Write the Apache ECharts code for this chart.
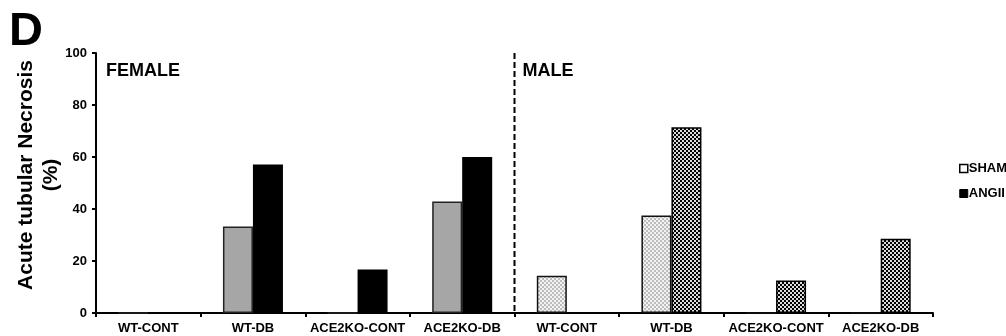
<!DOCTYPE html>
<html>
<head>
<meta charset="utf-8">
<script src="https://cdn.jsdelivr.net/npm/echarts@6/dist/echarts.min.js"></script>
<style>
  html, body { margin: 0; padding: 0; background: #fff; }
  #chart { width: 1006px; height: 336px; }
</style>
</head>
<body>
<div id="chart"></div>
<script>
// Groups along the x axis: four female groups followed by four male groups
const categories = ['WT-CONT', 'WT-DB', 'ACE2KO-CONT', 'ACE2KO-DB',
                    'WT-CONT', 'WT-DB', 'ACE2KO-CONT', 'ACE2KO-DB'];
const seriesNames = ['SHAM', 'ANGII'];
// Acute tubular necrosis (%) per group
const femaleSham  = [0, 33.3, 0, 42.9];
const femaleAngii = [0, 57.1, 16.7, 60.0];
const maleSham    = [14.3, 37.5, 0, 0];
const maleAngii   = [0, 71.4, 12.5, 28.6];
const yTicks = [0, 20, 40, 60, 80, 100];

const FONT = '"Liberation Sans", Arial, sans-serif';

// Fine checker fills used for the male bars
function checker(dark, light, cell) {
  const c = document.createElement('canvas');
  c.width = c.height = cell * 2;
  const g = c.getContext('2d');
  g.fillStyle = light; g.fillRect(0, 0, cell * 2, cell * 2);
  g.fillStyle = dark;
  g.fillRect(0, 0, cell, cell);
  g.fillRect(cell, cell, cell, cell);
  return c;
}
const lightChecker = { image: checker('#bdbdbd', '#f2f2f2', 2), repeat: 'repeat' };
const darkChecker  = { image: checker('#000000', '#dcdcdc', 2), repeat: 'repeat' };

function buildData(female, male, femaleStyle, maleStyle) {
  return female.map(v => ({ value: v, itemStyle: femaleStyle }))
    .concat(male.map(v => ({ value: v, itemStyle: maleStyle })));
}

const chart = echarts.init(document.getElementById('chart'), null, { renderer: 'canvas' });

const option = {
  animation: false,
  backgroundColor: '#fff',
  grid: { left: 96, right: 73, top: 53, bottom: 23, containLabel: false },
  legend: {
    orient: 'vertical',
    left: 954,
    top: 157,
    itemWidth: 8,
    itemHeight: 8,
    itemGap: 12,
    textStyle: { fontFamily: FONT, fontWeight: 'bold', fontSize: 13, color: '#000', padding: [0, 0, 0, -4] },
    data: [
      { name: 'SHAM', icon: 'rect', itemStyle: { color: '#fff', borderColor: '#000', borderWidth: 1.5 } },
      { name: 'ANGII', icon: 'rect', itemStyle: { color: '#000', borderColor: '#000', borderWidth: 1 } }
    ]
  },
  xAxis: {
    type: 'category',
    data: categories,
    boundaryGap: true,
    axisLine: { lineStyle: { color: '#000', width: 2 } },
    axisTick: { show: true, alignWithLabel: false, length: 4, lineStyle: { color: '#000', width: 2 } },
    axisLabel: { interval: 0, margin: 9, color: '#000', fontFamily: FONT, fontWeight: 'bold', fontSize: 13 },
    splitLine: { show: false }
  },
  yAxis: {
    type: 'value',
    min: yTicks[0],
    max: yTicks[yTicks.length - 1],
    interval: yTicks[1] - yTicks[0],
    axisLine: { show: true, lineStyle: { color: '#000', width: 2 } },
    axisTick: { show: true, length: 4, lineStyle: { color: '#000', width: 2 } },
    axisLabel: { margin: 9, color: '#000', fontFamily: FONT, fontWeight: 'bold', fontSize: 13 },
    splitLine: { show: false }
  },
  series: [
    {
      name: seriesNames[0],
      type: 'bar',
      barWidth: 30,
      barGap: '0%',
      data: buildData(femaleSham, maleSham,
        { color: '#a6a6a6', borderColor: '#222', borderWidth: 1.5 },
        { color: lightChecker, borderColor: '#111', borderWidth: 1.5 })
    },
    {
      name: seriesNames[1],
      type: 'bar',
      barWidth: 30,
      barGap: '0%',
      data: buildData(femaleAngii, maleAngii,
        { color: '#000', borderColor: '#000', borderWidth: 1.5 },
        { color: darkChecker, borderColor: '#000', borderWidth: 1.5 })
    }
  ]
};

chart.setOption(option);

// Divider between the female and male halves, plus panel text
const xa = chart.convertToPixel({ xAxisIndex: 0 }, 3);
const xb = chart.convertToPixel({ xAxisIndex: 0 }, 4);
const xDiv = (xa + xb) / 2;
const yTop = chart.convertToPixel({ yAxisIndex: 0 }, yTicks[yTicks.length - 1]);
const yBot = chart.convertToPixel({ yAxisIndex: 0 }, yTicks[0]);
const yMid = (yTop + yBot) / 2;

chart.setOption({
  graphic: [
    { type: 'line', shape: { x1: xDiv, y1: yTop, x2: xDiv, y2: yBot },
      style: { stroke: '#000', lineWidth: 2, lineDash: [6, 3] }, z: 10 },
    { type: 'text', left: 9, top: 9,
      style: { text: 'D', font: 'bold 47px ' + FONT, fill: '#000' } },
    { type: 'text', x: 106, y: 62,
      style: { text: 'FEMALE', font: 'bold 18px ' + FONT, fill: '#000' } },
    { type: 'text', x: xDiv + 8, y: 62,
      style: { text: 'MALE', font: 'bold 18px ' + FONT, fill: '#000' } },
    { type: 'text', x: 26, y: yMid - 8, rotation: Math.PI / 2,
      style: { text: 'Acute tubular Necrosis', font: 'bold 21px ' + FONT, fill: '#000',
               align: 'center', verticalAlign: 'middle' } },
    { type: 'text', x: 51, y: yMid - 8, rotation: Math.PI / 2,
      style: { text: '(%)', font: 'bold 21px ' + FONT, fill: '#000',
               align: 'center', verticalAlign: 'middle' } }
  ]
});
</script>
</body>
</html>
